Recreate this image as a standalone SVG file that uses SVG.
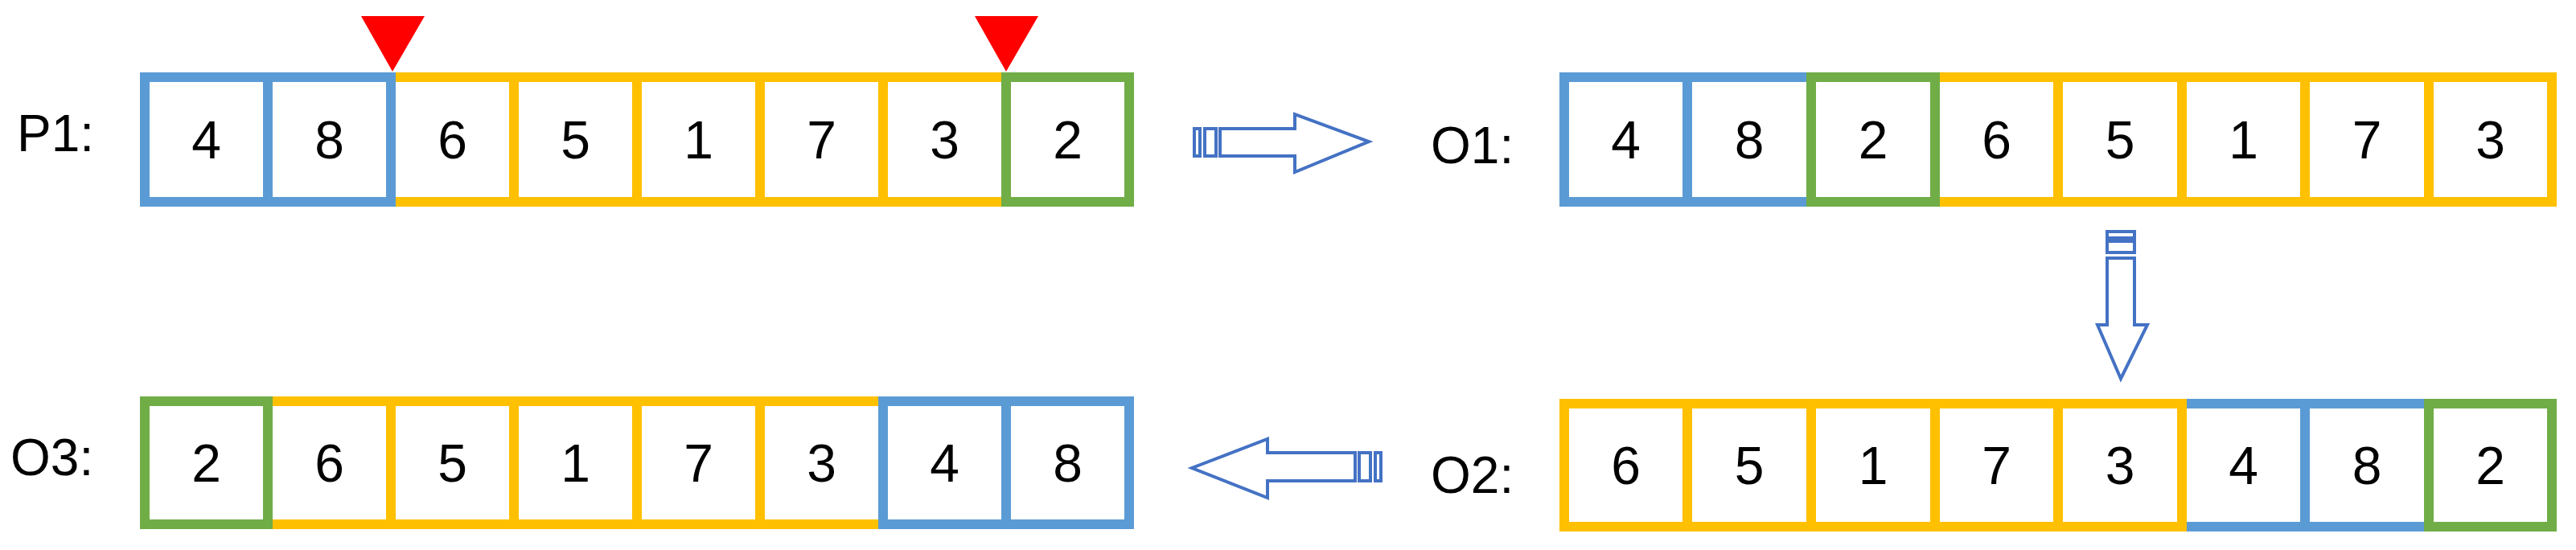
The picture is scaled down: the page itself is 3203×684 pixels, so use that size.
<svg xmlns="http://www.w3.org/2000/svg" width="3203" height="684" viewBox="0 0 3203 684">
<style>
.b{fill:none;stroke-width:12}
.y{stroke:#FFC000}.u{stroke:#5B9BD5}.g{stroke:#70AD47}
text{font-family:"Liberation Sans",Arial,sans-serif;fill:#000}
.n{font-size:66px;text-anchor:middle}
.l{font-size:64px}
.ar{fill:#fff;stroke:#4472C4;stroke-width:4}
</style>
<rect width="3203" height="684" fill="#fff"/>
<g id="P1">
<text class="l" x="21" y="188">P1:</text>
<rect class="b y" x="486" y="96" width="153" height="155"/>
<rect class="b y" x="639" y="96" width="153" height="155"/>
<rect class="b y" x="792" y="96" width="153" height="155"/>
<rect class="b y" x="945" y="96" width="153" height="155"/>
<rect class="b y" x="1098" y="96" width="153" height="155"/>
<rect class="b u" x="180" y="96" width="153" height="155"/>
<rect class="b u" x="333" y="96" width="153" height="155"/>
<rect class="b g" x="1251" y="96" width="153" height="155"/>
<text class="n" x="256.5" y="197">4</text><text class="n" x="409.5" y="197">8</text><text class="n" x="562.5" y="197">6</text><text class="n" x="715.5" y="197">5</text><text class="n" x="868.5" y="197">1</text><text class="n" x="1021.5" y="197">7</text><text class="n" x="1174.5" y="197">3</text><text class="n" x="1327.5" y="197">2</text>
<polygon points="449,20 528,20 488,89" fill="#FF0000"/>
<polygon points="1212,20 1291,20 1251,89" fill="#FF0000"/>
</g>
<g id="O1">
<text class="l" x="1779" y="203">O1:</text>
<rect class="b y" x="2252" y="96" width="154" height="155"/>
<rect class="b y" x="2406" y="96" width="153" height="155"/>
<rect class="b y" x="2559" y="96" width="154" height="155"/>
<rect class="b y" x="2713" y="96" width="153" height="155"/>
<rect class="b y" x="2866" y="96" width="154" height="155"/>
<rect class="b y" x="3020" y="96" width="153" height="155"/>
<rect class="b u" x="1945" y="96" width="153" height="155"/>
<rect class="b g" x="2252" y="96" width="154" height="155"/>
<rect class="b u" x="1945" y="96" width="153" height="155"/>
<rect class="b u" x="2098" y="96" width="154" height="155"/>
<rect class="b g" x="2252" y="96" width="154" height="155"/>
<text class="n" x="2021.5" y="197">4</text><text class="n" x="2175" y="197">8</text><text class="n" x="2329" y="197">2</text><text class="n" x="2482.5" y="197">6</text><text class="n" x="2636" y="197">5</text><text class="n" x="2789.5" y="197">1</text><text class="n" x="2943" y="197">7</text><text class="n" x="3096.5" y="197">3</text>
</g>
<g id="O2">
<text class="l" x="1779" y="613">O2:</text>
<rect class="b u" x="2713" y="502" width="153" height="153"/>
<rect class="b u" x="2866" y="502" width="154" height="153"/>
<rect class="b g" x="3020" y="502" width="153" height="153"/>
<rect class="b y" x="1945" y="502" width="153" height="153"/>
<rect class="b y" x="2098" y="502" width="154" height="153"/>
<rect class="b y" x="2252" y="502" width="154" height="153"/>
<rect class="b y" x="2406" y="502" width="153" height="153"/>
<rect class="b y" x="2559" y="502" width="154" height="153"/>
<text class="n" x="2021.5" y="602">6</text><text class="n" x="2175" y="602">5</text><text class="n" x="2329" y="602">1</text><text class="n" x="2482.5" y="602">7</text><text class="n" x="2636" y="602">3</text><text class="n" x="2789.5" y="602">4</text><text class="n" x="2943" y="602">8</text><text class="n" x="3096.5" y="602">2</text>
</g>
<g id="O3">
<text class="l" x="13" y="591">O3:</text>
<rect class="b y" x="333" y="499" width="153" height="153"/>
<rect class="b y" x="486" y="499" width="153" height="153"/>
<rect class="b y" x="639" y="499" width="153" height="153"/>
<rect class="b y" x="792" y="499" width="153" height="153"/>
<rect class="b y" x="945" y="499" width="153" height="153"/>
<rect class="b u" x="1098" y="499" width="153" height="153"/>
<rect class="b u" x="1251" y="499" width="153" height="153"/>
<rect class="b g" x="180" y="499" width="153" height="153"/>
<text class="n" x="256.5" y="599">2</text><text class="n" x="409.5" y="599">6</text><text class="n" x="562.5" y="599">5</text><text class="n" x="715.5" y="599">1</text><text class="n" x="868.5" y="599">7</text><text class="n" x="1021.5" y="599">3</text><text class="n" x="1174.5" y="599">4</text><text class="n" x="1327.5" y="599">8</text>
</g>
<g id="connectors">
<rect class="ar" x="1485" y="160" width="7" height="34"/>
<rect class="ar" x="1498" y="160" width="14" height="34"/>
<polygon class="ar" points="1517,160 1610,160 1610,142 1702,176 1610,214 1610,194 1517,194"/>
<rect class="ar" x="2620" y="288" width="34" height="8"/>
<rect class="ar" x="2620" y="300" width="34" height="14"/>
<polygon class="ar" points="2620,321 2654,321 2654,404 2670,404 2637,471 2608,404 2620,404"/>
<rect class="ar" x="1710" y="563" width="7" height="35"/>
<rect class="ar" x="1690" y="563" width="14" height="35"/>
<polygon class="ar" points="1685,563 1576,563 1576,546 1482,582 1576,619 1576,598 1685,598"/>
</g>
</svg>
